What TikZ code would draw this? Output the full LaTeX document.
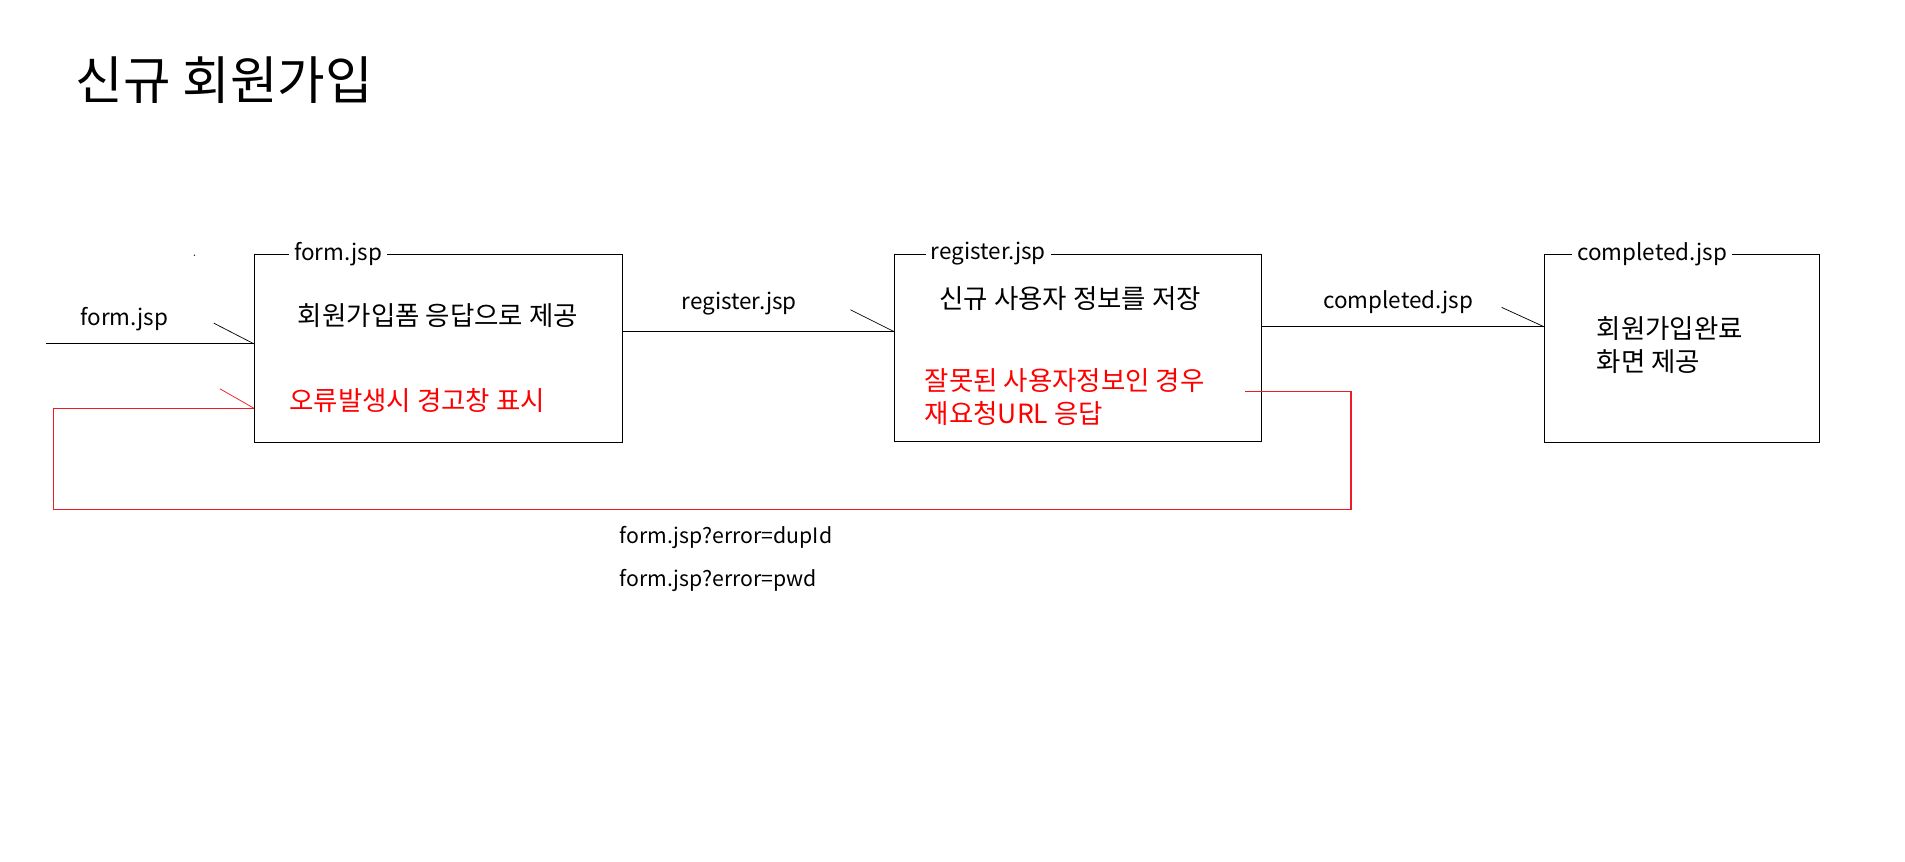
\documentclass[tikz,border=0pt]{standalone}
\usepackage{fontspec}
\setmainfont{Noto Sans CJK KR}
\definecolor{paintred}{RGB}{237,28,36}
\begin{document}
\begin{tikzpicture}[x=1pt,y=-1pt,
  box/.style={draw=black, line width=1pt, inner sep=0pt, anchor=north west},
  lbl/.style={font=\fontsize{18.5}{22}\selectfont, fill=white, inner xsep=4pt, inner ysep=1pt, anchor=west},
  txt/.style={font=\fontsize{21.8}{27}\selectfont, inner sep=0pt, anchor=west, align=left},
  ltxt/.style={font=\fontsize{18.5}{22}\selectfont, inner sep=0pt, anchor=west},
  etxt/.style={font=\fontsize{17.5}{22}\selectfont, inner sep=0pt, anchor=west},
  rtxt/.style={txt, text=red},
  wire/.style={draw=black, line width=0.9pt},
  rwire/.style={draw=paintred, line width=0.9pt},
  barb/.style={draw=black, line width=0.6pt},
  rbarb/.style={draw=paintred, line width=0.6pt}]
\useasboundingbox[fill=white] (0,0) rectangle (1568,709);
% title
\node[anchor=west, font=\fontsize{42.6}{50}\selectfont, inner sep=0pt] (title) at (62,66) {신규 회원가입};
% boxes
\node[box, minimum width=303pt, minimum height=155pt] (form) at (209,209) {};
\node[box, minimum width=302pt, minimum height=154pt] (reg) at (736,209) {};
\node[box, minimum width=226pt, minimum height=155pt] (comp) at (1271,209) {};
\node[lbl] (formlbl) at (238,209) {form.jsp};
\node[lbl] (reglbl) at (762,209) {register.jsp};
\node[lbl] (complbl) at (1294,209) {completed.jsp};
% box texts
\node[txt] (t1) at (245,260) {회원가입폼 응답으로 제공};
\node[rtxt] (t2) at (238,330) {오류발생시 경고창 표시};
\node[txt] (t3) at (773,246) {신규 사용자 정보를 저장};
\node[rtxt] (t4) at (761,327) {잘못된 사용자정보인 경우\\재요청URL 응답};
\node[txt] (t5) at (1314,284) {회원가입완료\\화면 제공};
% arrow labels
\node[ltxt] (a1) at (66,263) {form.jsp};
\node[ltxt] (a2) at (561,250) {register.jsp};
\node[ltxt] (a3) at (1089,249) {completed.jsp};
\node[etxt] (e1) at (510,442) {form.jsp?error=dupId};
\node[etxt] (e2) at (510,478) {form.jsp?error=pwd};
% speck
\fill (160,210) circle (0.6pt);
% connectors
\coordinate (start) at (38,283);
\coordinate (y1) at (0,273);
\coordinate (y2) at (0,269);
\coordinate (y3) at (0,336);
\coordinate (rstart) at (1025,322);
\coordinate (rc1) at (1112,322);
\coordinate (rc2) at (1112,419);
\coordinate (rc3) at (44,419);
\coordinate (rc4) at (44,336);
\draw[wire] (start) -- (start -| form.west);
\draw[barb] (start -| form.west) -- ++(-33,-17);
\draw[wire] (form.east |- y1) -- (reg.west |- y1);
\draw[barb] (reg.west |- y1) -- ++(-36,-18);
\draw[wire] (reg.east |- y2) -- (comp.west |- y2);
\draw[barb] (comp.west |- y2) -- ++(-35,-16);
\draw[rwire] (rstart) -- (rc1) -- (rc2) -- (rc3) -- (rc4) -- (form.west |- y3);
\draw[rbarb] (form.west |- y3) -- ++(-28,-16);
\end{tikzpicture}
\end{document}
